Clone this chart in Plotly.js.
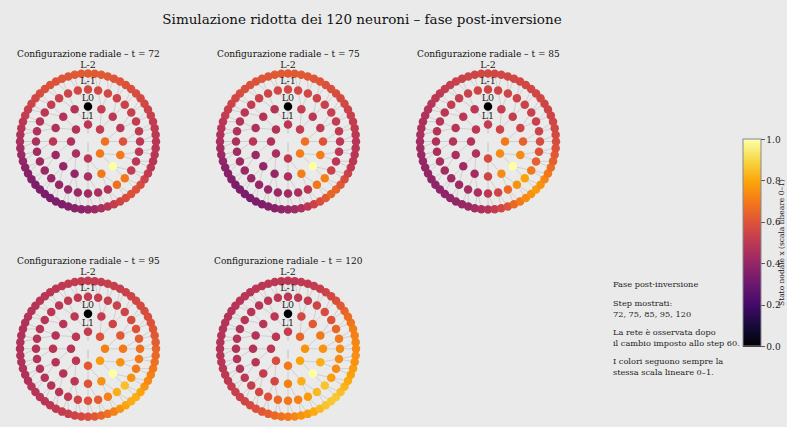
<!DOCTYPE html>
<html><head><meta charset="utf-8">
<script src="https://cdn.plot.ly/plotly-3.0.1.min.js"></script>
<style>html,body{margin:0;padding:0;background:#eaeaea;}#chart{width:787px;height:427px;}</style>
</head><body><div id="chart"></div>
<script>
// ---------- data ----------
const steps = [72, 75, 85, 95, 120];
const layerNames = ['L1', 'L0', 'L-1', 'L-2'];
const layerSizes = [8, 16, 32, 64];
const tickVals = [0, 0.2, 0.4, 0.6, 0.8, 1.0];
const tickLabels = ['0.0', '0.2', '0.4', '0.6', '0.8', '1.0'];

// node states per ring (index 0 = top, counter-clockwise)
const t72_L1 = [0.50, 0.48, 0.47, 0.45, 0.50, 0.70, 0.68, 0.52];
const t72_L0 = [0.00, 0.48, 0.48, 0.47, 0.50, 0.42, 0.40, 0.40, 0.45, 0.70, 1.00, 0.70, 0.60, 0.50, 0.50, 0.52];
const t72_Lm1 = [0.56, 0.56, 0.55, 0.54, 0.52, 0.50, 0.48, 0.47, 0.46, 0.44, 0.43, 0.42, 0.41, 0.41, 0.41, 0.42,
                 0.43, 0.46, 0.48, 0.68, 0.70, 0.52, 0.50, 0.50, 0.50, 0.51, 0.52, 0.53, 0.54, 0.55, 0.56, 0.56];
const t72_Lm2 = [0.62, 0.62, 0.62, 0.61, 0.61, 0.60, 0.60, 0.59, 0.58, 0.56, 0.55, 0.53, 0.52, 0.50, 0.49, 0.47,
                 0.46, 0.44, 0.42, 0.40, 0.38, 0.37, 0.36, 0.35, 0.34, 0.34, 0.34, 0.35, 0.35, 0.36, 0.37, 0.38,
                 0.40, 0.42, 0.45, 0.48, 0.52, 0.55, 0.58, 0.60, 0.60, 0.58, 0.55, 0.52, 0.50, 0.49, 0.49, 0.49,
                 0.49, 0.50, 0.51, 0.52, 0.53, 0.54, 0.56, 0.57, 0.58, 0.59, 0.60, 0.61, 0.61, 0.62, 0.62, 0.62];

const t75_L1 = [0.50, 0.48, 0.47, 0.45, 0.51, 0.71, 0.68, 0.52];
const t75_L0 = [0.00, 0.48, 0.48, 0.47, 0.49, 0.42, 0.40, 0.41, 0.46, 0.71, 1.00, 0.71, 0.60, 0.51, 0.50, 0.52];
const t75_Lm1 = [0.56, 0.56, 0.55, 0.54, 0.52, 0.50, 0.48, 0.47, 0.46, 0.44, 0.43, 0.42, 0.41, 0.41, 0.41, 0.42,
                 0.43, 0.46, 0.50, 0.70, 0.72, 0.54, 0.50, 0.50, 0.50, 0.51, 0.52, 0.53, 0.54, 0.55, 0.56, 0.56];
const t75_Lm2 = [0.62, 0.62, 0.62, 0.61, 0.61, 0.60, 0.60, 0.59, 0.58, 0.56, 0.55, 0.53, 0.52, 0.50, 0.49, 0.47,
                 0.46, 0.44, 0.42, 0.40, 0.38, 0.37, 0.36, 0.35, 0.34, 0.34, 0.34, 0.35, 0.35, 0.36, 0.37, 0.39,
                 0.41, 0.43, 0.46, 0.50, 0.54, 0.58, 0.62, 0.65, 0.65, 0.62, 0.58, 0.54, 0.51, 0.50, 0.49, 0.49,
                 0.49, 0.50, 0.51, 0.52, 0.53, 0.54, 0.56, 0.57, 0.58, 0.59, 0.60, 0.61, 0.61, 0.62, 0.62, 0.62];

const t85_L1 = [0.52, 0.50, 0.48, 0.47, 0.58, 0.74, 0.70, 0.55];
const t85_L0 = [0.00, 0.50, 0.50, 0.49, 0.48, 0.45, 0.43, 0.44, 0.55, 0.74, 1.00, 0.74, 0.64, 0.55, 0.52, 0.52];
const t85_Lm1 = [0.55, 0.55, 0.54, 0.53, 0.52, 0.50, 0.49, 0.48, 0.47, 0.46, 0.45, 0.44, 0.43, 0.43, 0.44, 0.45,
                 0.50, 0.55, 0.66, 0.76, 0.80, 0.70, 0.64, 0.60, 0.58, 0.55, 0.54, 0.54, 0.54, 0.55, 0.55, 0.55];
const t85_Lm2 = [0.56, 0.56, 0.55, 0.55, 0.54, 0.54, 0.53, 0.52, 0.51, 0.50, 0.49, 0.48, 0.47, 0.46, 0.46, 0.45,
                 0.44, 0.43, 0.42, 0.41, 0.40, 0.40, 0.39, 0.39, 0.39, 0.39, 0.40, 0.40, 0.41, 0.42, 0.44, 0.46,
                 0.48, 0.52, 0.56, 0.60, 0.66, 0.70, 0.74, 0.76, 0.78, 0.76, 0.73, 0.70, 0.67, 0.64, 0.62, 0.60,
                 0.58, 0.57, 0.56, 0.56, 0.55, 0.55, 0.55, 0.56, 0.56, 0.56, 0.56, 0.56, 0.56, 0.56, 0.56, 0.56];

const t95_L1 = [0.52, 0.50, 0.49, 0.50, 0.62, 0.78, 0.72, 0.60];
const t95_L0 = [0.00, 0.50, 0.49, 0.48, 0.49, 0.48, 0.48, 0.50, 0.60, 0.76, 1.00, 0.76, 0.70, 0.62, 0.55, 0.52];
const t95_Lm1 = [0.52, 0.51, 0.51, 0.50, 0.50, 0.49, 0.49, 0.48, 0.48, 0.48, 0.48, 0.48, 0.48, 0.49, 0.51, 0.55,
                 0.60, 0.63, 0.72, 0.82, 0.85, 0.76, 0.70, 0.70, 0.68, 0.63, 0.60, 0.57, 0.55, 0.54, 0.53, 0.52];
const t95_Lm2 = [0.52, 0.52, 0.52, 0.51, 0.51, 0.50, 0.50, 0.49, 0.49, 0.48, 0.48, 0.48, 0.47, 0.47, 0.47, 0.47,
                 0.47, 0.47, 0.47, 0.47, 0.47, 0.47, 0.48, 0.48, 0.49, 0.49, 0.50, 0.51, 0.52, 0.53, 0.55, 0.57,
                 0.59, 0.62, 0.65, 0.68, 0.72, 0.76, 0.80, 0.82, 0.82, 0.80, 0.77, 0.74, 0.72, 0.70, 0.68, 0.66,
                 0.65, 0.63, 0.62, 0.61, 0.60, 0.59, 0.58, 0.57, 0.56, 0.55, 0.54, 0.53, 0.53, 0.53, 0.52, 0.52];

const t120_L1 = [0.52, 0.50, 0.50, 0.58, 0.70, 0.80, 0.76, 0.65];
const t120_L0 = [0.00, 0.50, 0.49, 0.48, 0.48, 0.49, 0.52, 0.56, 0.72, 0.82, 1.00, 0.82, 0.76, 0.70, 0.62, 0.56];
const t120_Lm1 = [0.50, 0.50, 0.50, 0.49, 0.49, 0.49, 0.48, 0.48, 0.48, 0.48, 0.48, 0.50, 0.53, 0.56, 0.60, 0.66,
                  0.70, 0.72, 0.78, 0.84, 0.86, 0.78, 0.74, 0.74, 0.74, 0.70, 0.65, 0.60, 0.58, 0.55, 0.52, 0.51];
const t120_Lm2 = [0.50, 0.50, 0.50, 0.50, 0.50, 0.50, 0.49, 0.49, 0.49, 0.49, 0.48, 0.48, 0.48, 0.48, 0.48, 0.48,
                  0.48, 0.48, 0.49, 0.49, 0.50, 0.51, 0.52, 0.53, 0.54, 0.55, 0.57, 0.59, 0.61, 0.63, 0.66, 0.68,
                  0.70, 0.73, 0.76, 0.78, 0.81, 0.84, 0.86, 0.87, 0.87, 0.85, 0.83, 0.81, 0.79, 0.78, 0.76, 0.75,
                  0.74, 0.73, 0.72, 0.71, 0.69, 0.67, 0.65, 0.62, 0.59, 0.57, 0.55, 0.53, 0.52, 0.51, 0.51, 0.50];

const states = [
  [t72_L1, t72_L0, t72_Lm1, t72_Lm2],
  [t75_L1, t75_L0, t75_Lm1, t75_Lm2],
  [t85_L1, t85_L0, t85_Lm1, t85_Lm2],
  [t95_L1, t95_L0, t95_Lm1, t95_Lm2],
  [t120_L1, t120_L0, t120_Lm1, t120_Lm2]
];

const noteLines = ['Fase post-inversione', 'Step mostrati:', '72, 75, 85, 95, 120',
  'La rete è osservata dopo', 'il cambio imposto allo step 60.',
  'I colori seguono sempre la', 'stessa scala lineare 0–1.'];
const colorbarTitle = 'Stato nodale x (scala lineare 0–1)';

// ---------- style / layout ----------
const W = 787, H = 427;
const FONT = 'DejaVu Serif, Liberation Serif, serif';
const BG = '#eaeaea';
const ringR = [17, 35, 52, 68];
const centers = [[88, 141.5], [288, 141.5], [488, 141.5], [88, 348.8], [288, 348.8]];
const S = 76;
const inferno = [
  [0.0, '#000004'], [0.1, '#160b39'], [0.2, '#420a68'], [0.3, '#6a176e'], [0.4, '#932667'],
  [0.5, '#bc3754'], [0.6, '#dd513a'], [0.7, '#f37819'], [0.8, '#fca50a'], [0.9, '#f6d746'], [1.0, '#fcffa4']
];
const noteY = [284, 303, 313.5, 332, 342.5, 361, 371.5];

function pos(layer, k) {
  const a = (90 + k * 360 / layerSizes[layer]) * Math.PI / 180;
  return [ringR[layer] * Math.cos(a), ringR[layer] * Math.sin(a)];
}

const traces = [];
const layout = {
  width: W, height: H,
  paper_bgcolor: BG, plot_bgcolor: BG,
  margin: {l: 0, r: 0, t: 0, b: 0, autoexpand: false},
  showlegend: false,
  title: {text: 'Simulazione ridotta dei 120 neuroni – fase post-inversione',
          font: {family: FONT, size: 13.5, color: '#111'},
          x: 362 / W, xanchor: 'center', y: 1 - 19 / H, yanchor: 'middle'},
  annotations: []
};

steps.forEach((t, i) => {
  const sfx = i === 0 ? '' : String(i + 1);
  const [cx, cy] = centers[i];
  const ax = {visible: false, range: [-S, S], fixedrange: true,
              showgrid: false, zeroline: false};
  layout['xaxis' + sfx] = Object.assign({}, ax, {domain: [(cx - S) / W, (cx + S) / W], anchor: 'y' + sfx});
  layout['yaxis' + sfx] = Object.assign({}, ax, {domain: [1 - (cy + S) / H, 1 - (cy - S) / H], anchor: 'x' + sfx});
  const xa = 'x' + sfx, ya = 'y' + sfx;

  // edges: each node to its parent on the next inner ring
  const ex = [], ey = [];
  for (let L = 1; L < 4; L++) {
    for (let k = 0; k < layerSizes[L]; k++) {
      const p = pos(L, k), q = pos(L - 1, Math.floor(k / 2));
      ex.push(p[0], q[0], null); ey.push(p[1], q[1], null);
    }
  }
  traces.push({type: 'scatter', mode: 'lines', x: ex, y: ey, xaxis: xa, yaxis: ya,
               line: {color: '#c9c9c9', width: 0.8}, hoverinfo: 'skip'});
  const top = pos(0, 0), bot = pos(0, 4);
  traces.push({type: 'scatter', mode: 'lines', x: [top[0], bot[0]], y: [top[1], bot[1]],
               xaxis: xa, yaxis: ya, line: {color: '#bdbdbd', width: 0.9, dash: 'dash'}, hoverinfo: 'skip'});

  // nodes
  const nx = [], ny = [], nc = [];
  for (let L = 3; L >= 0; L--) {
    const vals = states[i][L];
    for (let k = 0; k < layerSizes[L]; k++) {
      const p = pos(L, k);
      nx.push(p[0]); ny.push(p[1]); nc.push(vals[k]);
    }
  }
  const marker = {size: 8.5, color: nc, colorscale: inferno, cmin: 0, cmax: 1, line: {width: 0},
                  showscale: i === 0};
  if (i === 0) {
    marker.colorbar = {
      x: 743 / W, xanchor: 'left', xref: 'paper',
      y: 1 - 243 / H, yanchor: 'middle', yref: 'paper',
      len: 207, lenmode: 'pixels', thickness: 18, thicknessmode: 'pixels',
      xpad: 0, ypad: 0, outlinewidth: 1, outlinecolor: '#8a8a8a',
      tickvals: tickVals, ticktext: tickLabels, ticks: 'outside', ticklen: 3.5,
      tickcolor: '#333', tickwidth: 0.8,
      tickfont: {family: FONT, size: 9, color: '#222'},
      title: {text: ''}
    };
  }
  traces.push({type: 'scatter', mode: 'markers', x: nx, y: ny, xaxis: xa, yaxis: ya,
               marker: marker, cliponaxis: false, hoverinfo: 'skip'});

  // ring labels
  traces.push({type: 'scatter', mode: 'text', x: ringR.map(() => 0), y: ringR.map(r => r + 8),
               text: layerNames, xaxis: xa, yaxis: ya, cliponaxis: false,
               textfont: {family: FONT, size: 9.5, color: '#222'}, textposition: 'middle center',
               hoverinfo: 'skip'});

  layout.annotations.push({text: 'Configurazione radiale – t = ' + t, xref: 'paper', yref: 'paper',
    x: cx / W, y: 1 - (cy - 88) / H, xanchor: 'center', yanchor: 'middle', showarrow: false,
    font: {family: FONT, size: 9, color: '#111'}});
});

noteLines.forEach((s, j) => {
  layout.annotations.push({text: s, xref: 'paper', yref: 'paper', x: 611 / W, y: 1 - noteY[j] / H,
    xanchor: 'left', yanchor: 'middle', showarrow: false,
    font: {family: FONT, size: 8.2, color: '#222'}});
});

layout.annotations.push({text: colorbarTitle, xref: 'paper', yref: 'paper', x: 782 / W, y: 1 - 243 / H,
  xanchor: 'center', yanchor: 'middle', showarrow: false, textangle: -90,
  font: {family: FONT, size: 7.5, color: '#222'}});

Plotly.newPlot('chart', traces, layout, {displayModeBar: false, staticPlot: true});
</script></body></html>
